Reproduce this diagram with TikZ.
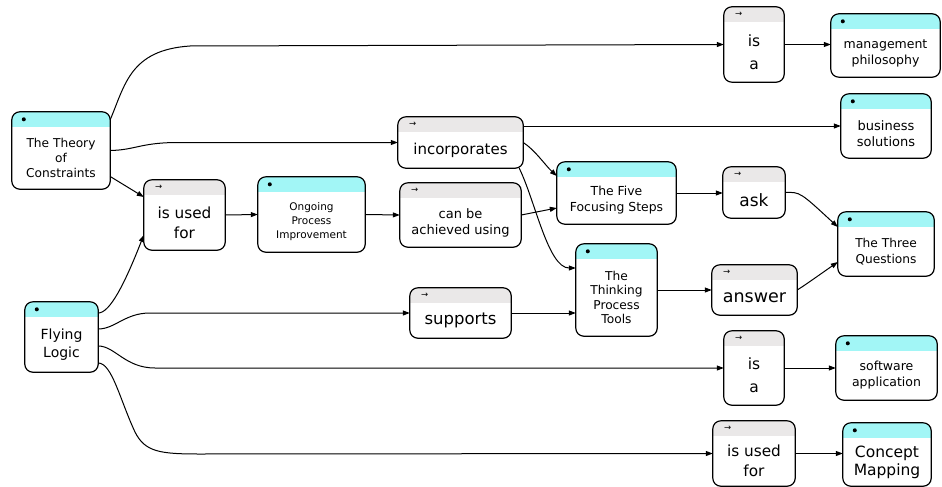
\documentclass[tikz,border=0pt]{standalone}
\usepackage{fontspec}
\setmainfont{DejaVu Sans}
\usetikzlibrary{fit,arrows.meta,calc}
\definecolor{cyanh}{RGB}{162,246,246}
\definecolor{grayh}{RGB}{234,232,232}
\tikzset{
  box/.style={fill=white, inner sep=0pt},
  frame/.style={draw=black, line width=1.2pt, rounded corners=8pt},
  lbl/.style={align=center, inner sep=0pt},
  dotmark/.style={circle, fill=black, inner sep=0pt, minimum size=4pt},
  arrmark/.style={inner sep=0pt, font=\fontsize{8.5}{8.5}\selectfont},
  link/.style={line width=1pt, -{Triangle[length=7pt,width=5pt]}},
}
\newcommand\mkbox[6]{% name x1 y1 x2 y2 headercolour
  \node[box, fit={(#2,#3) (#4,#5)}] (#1) {};
  \begin{scope}
    \clip[rounded corners=8pt] (#2,#3) rectangle (#4,#5);
    \fill[#6] (#2,#3) rectangle (#4,{#3+15});
  \end{scope}
  \draw[frame] (#1.north west) rectangle (#1.south east);
}
\newcommand\mkconcept[8]{%
  \mkbox{#1}{#2}{#3}{#4}{#5}{cyanh}
  \node[dotmark] (#1m) at ($(#1.north west)+(12,7.5)$) {};
  \node[lbl, font=\fontsize{#6}{#7}\selectfont] (#1t) at ({(#2+#4)/2},{(#3+15+#5)/2}) {#8};
}
\newcommand\mkrelation[8]{%
  \mkbox{#1}{#2}{#3}{#4}{#5}{grayh}
  \node[arrmark] (#1m) at ($(#1.north west)+(15,7)$) {→};
  \node[lbl, font=\fontsize{#6}{#7}\selectfont] (#1t) at ({(#2+#4)/2},{(#3+15+#5)/2}) {#8};
}
\begin{document}
\begin{tikzpicture}[x=1pt,y=-1pt]
\useasboundingbox (0,0) rectangle (942,487);
% concepts
\mkconcept{toc}{12}{112}{110}{189}{12.2}{15}{The Theory\\of\\Constraints}
\mkconcept{fl}{25}{302}{98}{372}{14}{18}{Flying\\Logic}
\mkconcept{opi}{258}{177}{365}{252}{10.5}{14}{Ongoing\\Process\\Improvement}
\mkconcept{mp}{831}{14}{940}{77}{12.5}{16}{management\\philosophy}
\mkconcept{bs}{841}{94}{931}{158}{13}{16}{business\\solutions}
\mkconcept{ffs}{557}{162}{676}{224}{12.4}{16}{The Five\\Focusing Steps}
\mkconcept{tpt}{576}{244}{657}{336}{12.2}{14.5}{The\\Thinking\\Process\\Tools}
\mkconcept{tq}{838}{212}{934}{276}{12.2}{16}{The Three\\Questions}
\mkconcept{sa}{836}{336}{937}{400}{12.5}{16}{software\\application}
\mkconcept{cm}{843}{423}{931}{486}{15.5}{18}{Concept\\Mapping}
% relations
\mkrelation{isa1}{724}{7}{784}{82}{15.5}{23}{is\\a}
\mkrelation{inc}{398}{117}{523}{168}{15}{18}{incorporates}
\mkrelation{isu1}{144}{180}{225}{250}{15.3}{20}{is used\\for}
\mkrelation{cba}{400}{183}{521}{247}{13}{16}{can be\\achieved using}
\mkrelation{ask}{723}{167}{785}{218}{17}{20}{ask}
\mkrelation{ans}{712}{265}{797}{315}{17.5}{20}{answer}
\mkrelation{sup}{410}{288}{511}{338}{16.5}{20}{supports}
\mkrelation{isa2}{724}{331}{784}{405}{15.5}{23}{is\\a}
\mkrelation{isu2}{713}{421}{795}{486}{15.3}{20}{is used\\for}
% links
\draw[link] ($(toc.north east)+(0,8)$) .. controls (125,85) and (130,50) .. (190,46) -- (isa1.west);
\draw[link] (toc.east) .. controls (135,150) and (140,143) .. (175,142.5) -- (inc.west);
\draw[link] ($(toc.east)+(0,26)$) -- ($(isu1.west)+(0,-18)$);
\draw[link] ($(fl.east)+(0,-24)$) .. controls (110,313) and (125,283) .. ($(isu1.west)+(0,20)$);
\draw[link] ($(fl.east)+(0,-8)$) .. controls (115,329) and (125,313) .. (150,313) -- (sup.west);
\draw[link] ($(fl.east)+(0,9)$) .. controls (115,346) and (125,368) .. (155,368) -- (isa2.west);
\draw[link] ($(fl.east)+(0,26)$) .. controls (112,363) and (120,400) .. (135,432) .. controls (145,452) and (160,454) .. (200,454) -- (isu2.west);
\draw[link] (isu1.east) -- (opi.west);
\draw[link] (opi.east) -- (cba.west);
\draw[link] (cba.east) -- ($(ffs.west)+(0,15)$);
\draw[link] (inc.east|-bs.west) -- (bs.west);
\draw[link] (inc.east) .. controls (535,150) and (545,165) .. ($(ffs.west)+(0,-17)$);
\draw[link] ($(inc.south east)+(-4,0)$) .. controls (535,200) and (548,268) .. ($(tpt.west)+(0,-22)$);
\draw[link] (sup.east) -- (sup.east-|tpt.west);
\draw[link] (ffs.east) -- (ffs.east-|ask.west);
\draw[link] (tpt.east) -- (tpt.east-|ans.west);
\draw[link] (ask.east) .. controls (800,192) .. ($(tq.west)+(0,-17)$);
\draw[link] (ans.east) .. controls (805,285) .. ($(tq.west)+(0,18)$);
\draw[link] (isa1.east) -- (isa1.east-|mp.west);
\draw[link] (isa2.east) -- (isa2.east-|sa.west);
\draw[link] (isu2.east) -- (isu2.east-|cm.west);
\end{tikzpicture}
\end{document}
